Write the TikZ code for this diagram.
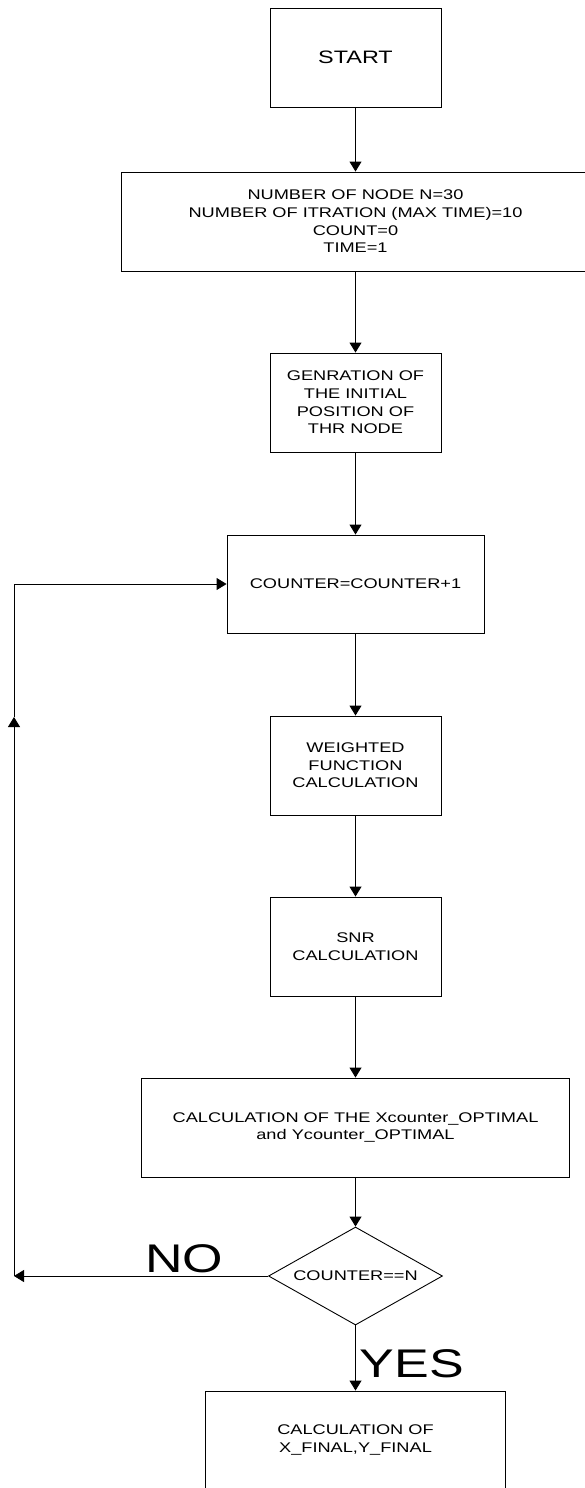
\documentclass[tikz,border=0pt]{standalone}
\usepackage{fontspec}
\setmainfont{Liberation Sans}[FakeStretch=1.3]
\usetikzlibrary{arrows.meta,shapes.geometric}

\begin{document}
\begin{tikzpicture}[x=1pt, y=-1pt]
\tikzset{boite/.style={draw, line width=0.9pt, align=center, inner sep=0pt, font=\fontsize{14}{17.6}\selectfont}}
\tikzset{losange/.style={boite, diamond, aspect=1.78}}
\tikzset{fleche/.style={line width=0.9pt, -{Triangle[length=10pt, width=12pt]}}}
\tikzset{etiq/.style={inner sep=0pt, font=\fontsize{40}{40}\selectfont}}
\clip (0, 0) rectangle (585, 1488);
\node[boite, minimum width=171, minimum height=99, font=\fontsize{18}{20}\selectfont] (B1) at (355.5, 57.5) {START};
\node[boite, minimum width=468, minimum height=99] (B2) at (355.5, 221.5) {NUMBER OF NODE N=30\\NUMBER OF ITRATION (MAX TIME)=10\\COUNT=0\\TIME=1};
\node[boite, minimum width=171, minimum height=99] (B3) at (355.5, 402.5) {GENRATION OF\\THE INITIAL\\POSITION OF\\THR NODE};
\node[boite, minimum width=257, minimum height=98] (B4) at (355.5, 584) {COUNTER=COUNTER+1};
\node[boite, minimum width=171, minimum height=99] (B5) at (355.5, 765.5) {WEIGHTED\\FUNCTION\\CALCULATION};
\node[boite, minimum width=171, minimum height=99] (B6) at (355.5, 946.5) {SNR\\CALCULATION};
\node[boite, minimum width=428, minimum height=99] (B7) at (355.5, 1127.5) {CALCULATION OF THE Xcounter\_OPTIMAL\\and Ycounter\_OPTIMAL};
\node[losange, minimum width=174, minimum height=98] (D) at (355.5, 1276) {COUNTER==N};
\node[boite, minimum width=300, minimum height=98] (B8) at (355.5, 1440) {CALCULATION OF\\X\_FINAL,Y\_FINAL};
\coordinate (C1) at (14, 1276);
\coordinate (C2) at (14, 717);
\coordinate (C3) at (14, 584);
\draw[fleche] (B1) -- (B2);
\draw[fleche] (B2) -- (B3);
\draw[fleche] (B3) -- (B4);
\draw[fleche] (B4) -- (B5);
\draw[fleche] (B5) -- (B6);
\draw[fleche] (B6) -- (B7);
\draw[fleche] (B7) -- (D);
\draw[fleche] (D) -- node[etiq, pos=0.803, anchor=base west, xshift=4pt] (YES) {YES} (B8);
\draw[fleche] (D) -- node[etiq, pos=0.486, anchor=base west, yshift=4pt] (NO) {NO} (C1);
\draw[fleche] (C1) -- (C2);
\draw[fleche] (C2) -- (C3) -- (B4);
\end{tikzpicture}
\end{document}
